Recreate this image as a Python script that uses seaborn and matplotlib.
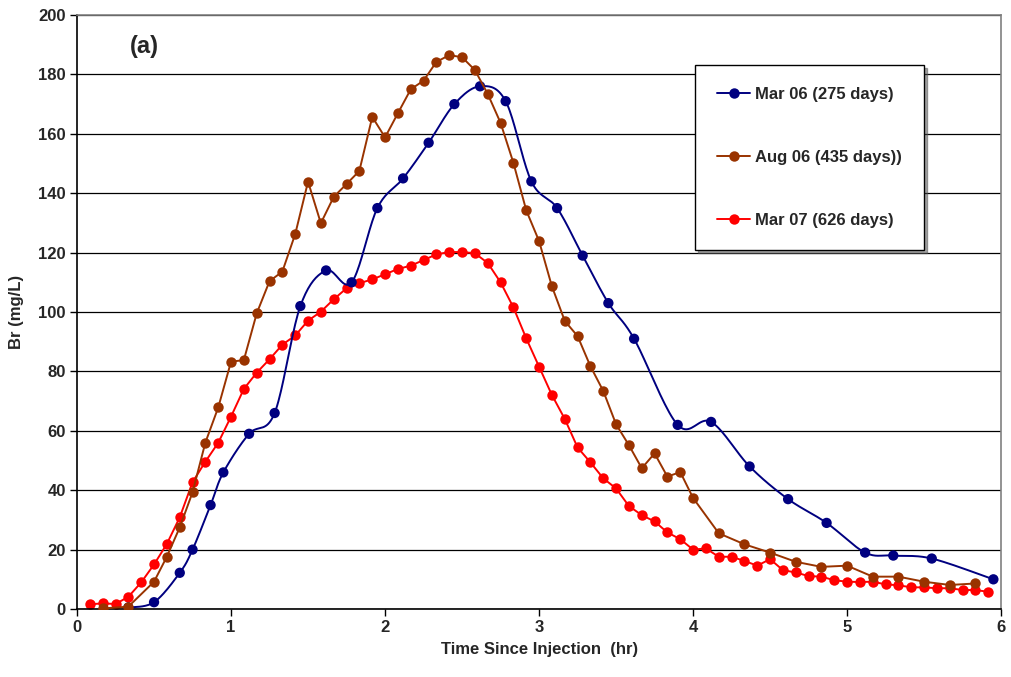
import matplotlib
matplotlib.use("Agg")
import matplotlib.pyplot as plt
import seaborn as sns
import numpy as np
import pandas as pd

# Mar 06 (275 days)
t_mar06 = [0.333, 0.5, 0.667, 0.75, 0.867, 0.95, 1.117, 1.283, 1.45, 1.617, 1.783,
           1.95, 2.117, 2.283, 2.45, 2.617, 2.783, 2.95, 3.117, 3.283, 3.45, 3.617,
           3.9, 4.117, 4.367, 4.617, 4.867, 5.117, 5.3, 5.55, 5.95]
br_mar06 = [0.5, 2.3, 12.2, 20, 35, 46, 59, 66, 102, 114, 110,
            135, 145, 157, 170, 176, 171, 144, 135, 119, 103, 91,
            62, 63, 48, 37, 29, 19, 18, 17, 10]

# Aug 06 (435 days)
t_aug06 = [0.167, 0.333, 0.5, 0.583, 0.667, 0.75, 0.833, 0.917, 1.0, 1.083, 1.167,
           1.25, 1.333, 1.417, 1.5, 1.583, 1.667, 1.75, 1.833, 1.917, 2.0, 2.083,
           2.167, 2.25, 2.333, 2.417, 2.5, 2.583, 2.667, 2.75, 2.833, 2.917, 3.0,
           3.083, 3.167, 3.25, 3.333, 3.417, 3.5, 3.583, 3.667, 3.75, 3.833, 3.917,
           4.0, 4.167, 4.333, 4.5, 4.667, 4.833, 5.0, 5.167, 5.333, 5.5, 5.667, 5.833]
br_aug06 = [0.2, 0.8, 9.2, 17.6, 27.5, 39.3, 56, 67.9, 83.3, 83.8, 99.6,
            110.4, 113.6, 126.3, 143.9, 129.9, 138.8, 143.1, 147.5, 165.7, 158.8, 166.9,
            175, 177.9, 184.2, 186.5, 185.8, 181.5, 173.4, 163.7, 150.3, 134.2, 123.9,
            108.7, 97, 91.9, 81.8, 73.4, 62.2, 55.2, 47.4, 52.4, 44.6, 46.1,
            37.4, 25.5, 21.8, 19, 15.9, 14.2, 14.6, 10.9, 10.9, 9.2, 8.1, 8.6]

# Mar 07 (626 days)
t_mar07 = [0.083, 0.167, 0.25, 0.333, 0.417, 0.5, 0.583, 0.667, 0.75, 0.833, 0.917,
           1.0, 1.083, 1.167, 1.25, 1.333, 1.417, 1.5, 1.583, 1.667, 1.75, 1.833,
           1.917, 2.0, 2.083, 2.167, 2.25, 2.333, 2.417, 2.5, 2.583, 2.667, 2.75,
           2.833, 2.917, 3.0, 3.083, 3.167, 3.25, 3.333, 3.417, 3.5, 3.583, 3.667,
           3.75, 3.833, 3.917, 4.0, 4.083, 4.167, 4.25, 4.333, 4.417, 4.5, 4.583,
           4.667, 4.75, 4.833, 4.917, 5.0, 5.083, 5.167, 5.25, 5.333, 5.417, 5.5,
           5.583, 5.667, 5.75, 5.833, 5.917]
br_mar07 = [1.6, 1.9, 1.7, 4.1, 9, 15, 21.9, 30.9, 42.7, 49.6, 56,
            64.8, 74.1, 79.6, 84.1, 89, 92.1, 97.1, 100.1, 104.3, 108, 109.7,
            111, 112.7, 114.5, 115.6, 117.5, 119.4, 120.2, 120.2, 119.8, 116.5, 110,
            101.6, 91.1, 81.6, 72.1, 64, 54.4, 49.4, 44, 40.6, 34.7, 31.6,
            29.5, 25.8, 23.5, 20, 20.4, 17.6, 17.6, 16.2, 14.6, 16.8, 13.1,
            12.3, 11.1, 10.9, 9.7, 9.2, 9.1, 9.2, 8.3, 8, 7.3, 7.3,
            7, 7, 6.4, 6.4, 5.8]

labels = ["Mar 06 (275 days)", "Aug 06 (435 days))", "Mar 07 (626 days)"]
colors = ["#000080", "#993300", "#FF0000"]


def smooth(x, y, n=20):
    # catmull-rom style curve, like the excel "smoothed line" option
    p = np.column_stack([x, y]).astype(float)
    p = np.vstack([p[0], p, p[-1]])
    out = []
    for i in range(1, len(p) - 2):
        p0, p1, p2, p3 = p[i - 1], p[i], p[i + 1], p[i + 2]
        s = np.linspace(0, 1, n, endpoint=False)[:, None]
        c = 0.5 * ((2 * p1) + (-p0 + p2) * s + (2 * p0 - 5 * p1 + 4 * p2 - p3) * s ** 2
                   + (-p0 + 3 * p1 - 3 * p2 + p3) * s ** 3)
        out.append(c)
    out.append(p[-2][None, :])
    c = np.vstack(out)
    return c[:, 0], c[:, 1]


sns.set_style("white")
plt.rcParams['font.family'] = ['Liberation Sans', 'DejaVu Sans']
plt.rcParams['font.weight'] = 'bold'

fig = plt.figure(figsize=(10.11, 6.77), dpi=100)
ax = fig.add_axes([0.0762, 0.1004, 0.9140, 0.8774])

df_a = pd.DataFrame({'t': t_mar06, 'br': br_mar06})
df_b = pd.DataFrame({'t': t_aug06, 'br': br_aug06})
df_c = pd.DataFrame({'t': t_mar07, 'br': br_mar07})

ax.set_axisbelow(True)
ax.yaxis.grid(True, color='black', lw=0.9)

sns.lineplot(data=df_c, x='t', y='br', color=colors[2], lw=1.4, marker='o', markersize=7.5,
             markeredgecolor='none', ax=ax, zorder=2)

# blue series has a smoothed line
sx, sy = smooth(df_a['t'], df_a['br'])
ax.plot(sx, sy, color=colors[0], lw=1.4, zorder=3)
sns.scatterplot(data=df_a, x='t', y='br', color=colors[0], s=55, edgecolor='none', ax=ax, zorder=3)

sns.lineplot(data=df_b, x='t', y='br', color=colors[1], lw=1.4, marker='o', markersize=7.5,
             markeredgecolor='none', ax=ax, zorder=4)

ax.set_xlim(0, 6)
ax.set_ylim(0, 200)
ax.set_xticks(range(0, 7))
ax.set_yticks(range(0, 201, 20))
ax.tick_params(axis='both', direction='out', length=5, width=1, color='black',
               labelsize=12, pad=3, bottom=True, left=True)
for lab in ax.get_xticklabels() + ax.get_yticklabels():
    lab.set_fontweight('bold')

for side in ['left', 'bottom']:
    ax.spines[side].set_color('black')
    ax.spines[side].set_linewidth(1.2)
for side in ['top', 'right']:
    ax.spines[side].set_color('#808080')
    ax.spines[side].set_linewidth(1.2)

ax.set_xlabel('Time Since Injection  (hr)', fontsize=12, fontweight='bold', labelpad=5)
ax.set_ylabel('Br (mg/L)', fontsize=12, fontweight='bold', labelpad=10)

ax.text(0.44, 189.5, '(a)', fontsize=17, fontweight='bold', ha='center', va='center')

handles = [plt.Line2D([], [], color=c, lw=1.4, marker='o', markersize=7.5, markeredgecolor='none')
           for c in colors]
leg = ax.legend(handles, labels, loc='upper left', bbox_to_anchor=(0.669, 0.916),
                frameon=True, fancybox=False, shadow=True, framealpha=1,
                edgecolor='black', prop={'weight': 'bold', 'size': 12},
                handlelength=2.0, handletextpad=0.3, labelspacing=2.9, borderpad=1.3,
                borderaxespad=0)
leg.get_frame().set_linewidth(1)

fig.savefig('out.png', dpi=100)
